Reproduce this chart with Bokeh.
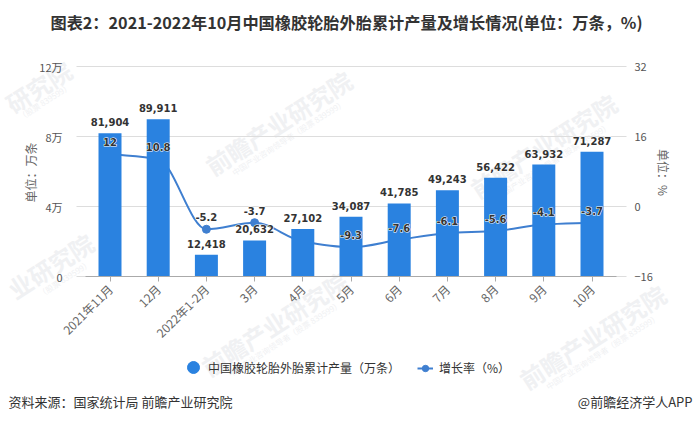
import math
from bokeh.plotting import figure
from bokeh.embed import file_html
from bokeh.resources import INLINE
from bokeh.core.properties import value
from bokeh.models import (Range1d, LinearAxis, FixedTicker, Label, Legend, LegendItem)

months = ["2021年11月", "12月", "2022年1-2月", "3月", "4月", "5月", "6月", "7月", "8月", "9月", "10月"]
output = [81904, 89911, 12418, 20632, 27102, 34087, 41785, 49243, 56422, 63932, 71287]
rate = [12, 10.8, -5.2, -3.7, -8.0, -9.3, -7.6, -6.1, -5.6, -4.1, -3.7]
rate_labels = ["12", "10.8", "-5.2", "-3.7", "", "-9.3", "-7.6", "-6.1", "-5.6", "-4.1", "-3.7"]
left_ticks = [0, 40000, 80000, 120000]
left_tick_labels = ["0", "4万", "8万", "12万"]
right_ticks = [-16, 0, 16, 32]

BAR = "#2a82e0"
LINE = "#3f7fd0"
CJK = "Noto Sans CJK SC"
LAT = "DejaVu Sans"
WM = "#f0f1f3"
W, H = 693, 422
# plot box in pixels: the figure's frame fills the page so that page-level texts are not clipped
BOX_L, BOX_R, BOX_T, BOX_B = 76, 626, 66, 276
X0, DX = 109.5, 48.2
UP = 120000 / (BOX_B - BOX_T)
RP = 48 / (BOX_B - BOX_T)
x_lo, x_hi = (BOX_L - X0) / DX, (BOX_R - X0) / DX

xs = list(range(len(months)))
p = figure(width=W, height=H, output_backend="svg", toolbar_location=None,
           x_range=Range1d(-X0 / DX, (W - X0) / DX),
           y_range=Range1d(-(H - BOX_B) * UP, 120000 + BOX_T * UP),
           min_border=0, outline_line_color=None, background_fill_color="white", border_fill_color="white",
           x_axis_type=None, y_axis_type=None)
p.extra_y_ranges = {"rate": Range1d(-16 - (H - BOX_B) * RP, 32 + BOX_T * RP)}
p.xgrid.visible = False
p.ygrid.visible = False

bottom = LinearAxis(fixed_location=0, ticker=FixedTicker(ticks=xs),
                    major_label_overrides={i: m for i, m in enumerate(months)},
                    major_label_orientation=0.785, major_label_text_font=CJK,
                    major_label_text_font_size="12px", major_label_text_color="#666666",
                    axis_line_color="#aaaaaa", major_tick_line_color="#aaaaaa", major_tick_in=0, major_tick_out=5,
                    minor_tick_line_color=None, bounds=(-0.5, 10.5))
p.add_layout(bottom, "below")

left = LinearAxis(fixed_location=x_lo, ticker=FixedTicker(ticks=left_ticks),
                  major_label_overrides=dict(zip(left_ticks, left_tick_labels)),
                  axis_line_color=None, major_tick_line_color=None, minor_tick_line_color=None,
                  major_label_text_font=CJK, major_label_text_font_size="11px",
                  major_label_text_color="#555555", major_label_standoff=8)
p.add_layout(left, "left")

right = LinearAxis(y_range_name="rate", fixed_location=x_hi, ticker=FixedTicker(ticks=right_ticks),
                   axis_line_color=None, major_tick_line_color=None, minor_tick_line_color=None,
                   major_label_text_font=CJK, major_label_text_font_size="11px",
                   major_label_text_color="#555555", major_label_standoff=2)
p.add_layout(right, "right")

def add_label(text, x, y, size, color, align="left", style="normal", font=CJK, angle=0, level="annotation"):
    p.add_layout(Label(x=x, y=H - y, x_units="screen", y_units="screen", text=text,
                       text_font=font, text_font_size=size, text_color=color, text_align=align,
                       text_baseline="middle", text_font_style=style, angle=angle, level=level))

# watermarks, under everything
for cx, cy in [(278, 122), (274, 323), (543, 145), (592, 336)]:
    add_label("前瞻产业研究院", cx, cy, "24px", WM, align="center", style="bold", angle=0.57, level="underlay")
    add_label("中国产业咨询领导者（股票 839599）", cx + 10, cy + 15, "8px", WM, align="center", angle=0.57, level="underlay")
# the two that run off the left edge of the page show only their ends
add_label("研究院", 38, 86, "24px", WM, align="center", style="bold", angle=0.57, level="underlay")
add_label("（股票 839599）", 44, 101, "8px", WM, align="center", angle=0.57, level="underlay")
add_label("业研究院", 50, 265, "24px", WM, align="center", style="bold", angle=0.57, level="underlay")
add_label("（股票 839599）", 64, 278, "8px", WM, align="center", angle=0.57, level="underlay")

# gridlines
p.segment(x0=[x_lo] * 4, x1=[x_hi] * 4, y0=left_ticks, y1=left_ticks, line_color="#dddddd", line_width=1)

def slope(i):
    if i == 0:
        return rate[1] - rate[0]
    if i == len(rate) - 1:
        return rate[i] - rate[i - 1]
    a, b = rate[i] - rate[i - 1], rate[i + 1] - rate[i]
    if a * b <= 0:
        return 0.0
    return 2 * a * b / (a + b)

x0 = xs[:-1]
x1 = xs[1:]
y0 = rate[:-1]
y1 = rate[1:]
cx0 = [x + 1 / 3 for x in x0]
cx1 = [x - 1 / 3 for x in x1]
cy0 = [rate[i] + slope(i) / 3 for i in x0]
cy1 = [rate[i] - slope(i) / 3 for i in x1]
curve = p.bezier(x0=x0, y0=y0, x1=x1, y1=y1, cx0=cx0, cy0=cy0, cx1=cx1, cy1=cy1,
                 line_color=LINE, line_width=2, y_range_name="rate")
pts = p.scatter(xs, rate, size=8, marker="circle", fill_color=LINE, line_color=LINE, y_range_name="rate")

p.vbar(x=xs, top=output, width=0.477, fill_color=BAR, line_color=None)

def value_text(y, labels, offset, **kw):
    common = dict(x=xs, y=y, text=labels, text_font=value(LAT), text_font_style="bold", text_font_size="10px",
                  text_align="center", text_baseline="middle", y_offset=offset, **kw)
    p.text(text_color="white", text_outline_color="white", **common)
    p.text(text_color="#333333", **common)

value_text(output, [f"{v:,}" for v in output], -11)
value_text(rate, rate_labels, -12, y_range_name="rate")

add_label("图表2：2021-2022年10月中国橡胶轮胎外胎累计产量及增长情况(单位：万条，%)", 346, 21, "16.2px", "#333333",
          align="center", style="bold")
add_label("资料来源：国家统计局 前瞻产业研究院", 8, 401, "13px", "#333333")
add_label("@前瞻经济学人APP", 692, 401, "13px", "#333333", align="right")
add_label("单位：万条", 30, 172, "12px", "#666666", align="center", angle=math.pi / 2)
add_label("单位：%", 663, 172, "12px", "#666666", align="center", angle=-math.pi / 2)

legend_mark = p.scatter([float("nan")], [float("nan")], size=12, marker="circle", fill_color=BAR, line_color=BAR)
legend_style = dict(orientation="horizontal", border_line_color=None, background_fill_alpha=0,
                    label_text_font=CJK, label_text_font_size="12px", label_text_color="#333333",
                    margin=0, padding=0)
p.add_layout(Legend(items=[LegendItem(label="中国橡胶轮胎外胎累计产量（万条）", renderers=[legend_mark])],
                    location=(178, 40), glyph_width=30, glyph_height=30, label_standoff=0, **legend_style), "center")
p.add_layout(Legend(items=[LegendItem(label="增长率（%）", renderers=[curve, pts])],
                    location=(417, 46), glyph_width=16, glyph_height=16, label_standoff=6, **legend_style), "center")

open("out.html", "w").write(file_html(p, INLINE))
